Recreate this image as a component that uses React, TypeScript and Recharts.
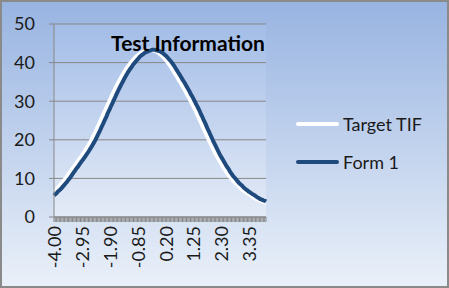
import { LineChart, Line, XAxis, YAxis, CartesianGrid } from 'recharts'

// ability scale, one category per 0.05
const THETA = [
  '-4.00', '-3.95', '-3.90', '-3.85', '-3.80', '-3.75', '-3.70', '-3.65', '-3.60', '-3.55',
  '-3.50', '-3.45', '-3.40', '-3.35', '-3.30', '-3.25', '-3.20', '-3.15', '-3.10', '-3.05',
  '-3.00', '-2.95', '-2.90', '-2.85', '-2.80', '-2.75', '-2.70', '-2.65', '-2.60', '-2.55',
  '-2.50', '-2.45', '-2.40', '-2.35', '-2.30', '-2.25', '-2.20', '-2.15', '-2.10', '-2.05',
  '-2.00', '-1.95', '-1.90', '-1.85', '-1.80', '-1.75', '-1.70', '-1.65', '-1.60', '-1.55',
  '-1.50', '-1.45', '-1.40', '-1.35', '-1.30', '-1.25', '-1.20', '-1.15', '-1.10', '-1.05',
  '-1.00', '-0.95', '-0.90', '-0.85', '-0.80', '-0.75', '-0.70', '-0.65', '-0.60', '-0.55',
  '-0.50', '-0.45', '-0.40', '-0.35', '-0.30', '-0.25', '-0.20', '-0.15', '-0.10', '-0.05',
  '0.00', '0.05', '0.10', '0.15', '0.20', '0.25', '0.30', '0.35', '0.40', '0.45',
  '0.50', '0.55', '0.60', '0.65', '0.70', '0.75', '0.80', '0.85', '0.90', '0.95',
  '1.00', '1.05', '1.10', '1.15', '1.20', '1.25', '1.30', '1.35', '1.40', '1.45',
  '1.50', '1.55', '1.60', '1.65', '1.70', '1.75', '1.80', '1.85', '1.90', '1.95',
  '2.00', '2.05', '2.10', '2.15', '2.20', '2.25', '2.30', '2.35', '2.40', '2.45',
  '2.50', '2.55', '2.60', '2.65', '2.70', '2.75', '2.80', '2.85', '2.90', '2.95',
  '3.00', '3.05', '3.10', '3.15', '3.20', '3.25', '3.30', '3.35', '3.40', '3.45',
  '3.50', '3.55', '3.60', '3.65', '3.70', '3.75', '3.80', '3.85', '3.90', '3.95',
  '4.00',
]

const TARGET_TIF = [
  6.6, 6.9, 7.2, 7.6, 8.0, 8.4, 8.8, 9.2, 9.7, 10.1,
  10.6, 11.1, 11.6, 12.1, 12.6, 13.0, 13.5, 14.0, 14.5, 14.9,
  15.4, 15.9, 16.4, 16.9, 17.5, 18.0, 18.6, 19.2, 19.8, 20.5,
  21.2, 21.9, 22.6, 23.4, 24.1, 24.9, 25.6, 26.4, 27.2, 27.9,
  28.7, 29.4, 30.2, 30.9, 31.7, 32.4, 33.1, 33.8, 34.5, 35.1,
  35.8, 36.4, 37.0, 37.6, 38.1, 38.6, 39.1, 39.6, 40.0, 40.4,
  40.8, 41.2, 41.6, 41.9, 42.1, 42.4, 42.6, 42.8, 42.9, 43.1,
  43.2, 43.3, 43.3, 43.3, 43.2, 43.1, 43.0, 42.9, 42.7, 42.5,
  42.2, 41.9, 41.6, 41.2, 40.8, 40.4, 40.0, 39.5, 39.0, 38.4,
  37.9, 37.3, 36.8, 36.2, 35.6, 35.1, 34.5, 33.9, 33.3, 32.7,
  32.0, 31.4, 30.8, 30.1, 29.4, 28.8, 28.1, 27.4, 26.6, 25.9,
  25.1, 24.4, 23.6, 22.8, 22.1, 21.3, 20.6, 19.8, 19.1, 18.4,
  17.7, 17.0, 16.3, 15.7, 15.1, 14.5, 13.9, 13.3, 12.8, 12.3,
  11.7, 11.2, 10.7, 10.3, 9.9, 9.5, 9.1, 8.7, 8.4, 8.1,
  7.7, 7.4, 7.1, 6.9, 6.6, 6.4, 6.1, 5.9, 5.7, 5.5,
  5.2, 5.0, 4.8, 4.6, 4.5, 4.3, 4.2, 4.0, 3.9, 3.8,
  3.7,
]

const FORM_1 = [
  5.6, 5.9, 6.2, 6.6, 6.9, 7.2, 7.6, 8.0, 8.4, 8.8,
  9.2, 9.7, 10.1, 10.6, 11.1, 11.6, 12.1, 12.6, 13.0, 13.5,
  14.0, 14.5, 14.9, 15.4, 15.9, 16.4, 16.9, 17.5, 18.0, 18.6,
  19.2, 19.8, 20.5, 21.2, 21.9, 22.6, 23.4, 24.1, 24.9, 25.6,
  26.4, 27.2, 27.9, 28.7, 29.4, 30.2, 30.9, 31.7, 32.4, 33.1,
  33.8, 34.5, 35.1, 35.8, 36.4, 37.0, 37.6, 38.1, 38.6, 39.1,
  39.6, 40.0, 40.4, 40.8, 41.2, 41.6, 41.9, 42.1, 42.4, 42.6,
  42.8, 42.9, 43.1, 43.2, 43.3, 43.3, 43.3, 43.2, 43.1, 43.0,
  42.9, 42.7, 42.5, 42.2, 41.9, 41.6, 41.2, 40.8, 40.4, 40.0,
  39.5, 39.0, 38.4, 37.9, 37.3, 36.8, 36.2, 35.6, 35.1, 34.5,
  33.9, 33.3, 32.7, 32.0, 31.4, 30.8, 30.1, 29.4, 28.8, 28.1,
  27.4, 26.6, 25.9, 25.1, 24.4, 23.6, 22.8, 22.1, 21.3, 20.6,
  19.8, 19.1, 18.4, 17.7, 17.0, 16.3, 15.7, 15.1, 14.5, 13.9,
  13.3, 12.8, 12.3, 11.7, 11.2, 10.7, 10.3, 9.9, 9.5, 9.1,
  8.7, 8.4, 8.1, 7.7, 7.4, 7.1, 6.9, 6.6, 6.4, 6.1,
  5.9, 5.7, 5.5, 5.2, 5.0, 4.8, 4.6, 4.5, 4.3, 4.2,
  4.0,
]

const Y_TICKS = [0, 10, 20, 30, 40, 50]
const LABEL_EVERY = 21

const SERIES = [
  { key: 'target', name: 'Target TIF', color: '#ffffff' },
  { key: 'form1', name: 'Form 1', color: '#1f4a7e' },
]

const data = THETA.map((t, i) => ({ theta: t, target: TARGET_TIF[i], form1: FORM_1[i] }))

const AXIS_GRAY = '#878787'
const TEXT = '#1a1a1a'

function ThetaTick({ x, y, payload, index }: any) {
  if (index % LABEL_EVERY !== 0) return <g />
  return (
    <text
      transform={`translate(${x + 1},${y}) rotate(-90)`}
      textAnchor="end"
      dy="0.35em"
      fontSize={18}
      fill={TEXT}
    >
      {payload.value}
    </text>
  )
}

export default function App() {
  return (
    <div
      style={{
        position: 'absolute',
        left: 0,
        top: 0,
        width: 449,
        height: 288,
        boxSizing: 'border-box',
        border: '2px solid #8a8a8a',
        background: 'linear-gradient(#98b4e1, #eaf0f9)',
        fontFamily: 'Lato, sans-serif',
      }}
    >
      <LineChart
        width={445}
        height={284}
        data={data}
        margin={{ top: 22, right: 181, bottom: 9, left: 12 }}
        style={{ position: 'absolute', left: 0, top: 0 }}
      >
        <defs>
          <linearGradient id="plotBg" x1="0" y1="0" x2="0" y2="1">
            <stop offset="0%" stopColor="#a3bde7" />
            <stop offset="100%" stopColor="#e4ebf7" />
          </linearGradient>
        </defs>
        <CartesianGrid vertical={false} stroke={AXIS_GRAY} fill="url(#plotBg)" fillOpacity={1} />
        <XAxis
          dataKey="theta"
          interval={0}
          height={60}
          tickSize={5}
          tickMargin={4}
          axisLine={{ stroke: AXIS_GRAY }}
          tickLine={{ stroke: AXIS_GRAY }}
          tick={<ThetaTick />}
        />
        <YAxis
          domain={[0, 50]}
          ticks={Y_TICKS}
          interval={0}
          width={40}
          tickSize={5}
          tickMargin={14}
          axisLine={{ stroke: AXIS_GRAY }}
          tickLine={{ stroke: AXIS_GRAY }}
          tick={{ fontSize: 18, fill: TEXT }}
        />
        {SERIES.map(s => (
          <Line
            key={s.key}
            type="monotone"
            dataKey={s.key}
            name={s.name}
            stroke={s.color}
            strokeWidth={4}
            dot={false}
            activeDot={false}
            isAnimationActive={false}
          />
        ))}
      </LineChart>

      <div
        style={{
          position: 'absolute',
          left: 86,
          top: 30,
          width: 200,
          textAlign: 'center',
          fontSize: 21,
          fontWeight: 700,
          color: '#000',
          lineHeight: '22px',
        }}
      >
        Test Information
      </div>

      {SERIES.map((s, i) => (
        <div
          key={s.key}
          style={{
            position: 'absolute',
            left: 294,
            top: 111 + i * 38,
            height: 22,
            display: 'flex',
            alignItems: 'center',
            color: TEXT,
            fontSize: 18,
          }}
        >
          <div style={{ width: 43, height: 4, borderRadius: 2, background: s.color }} />
          <span style={{ marginLeft: 4 }}>{s.name}</span>
        </div>
      ))}
    </div>
  )
}
